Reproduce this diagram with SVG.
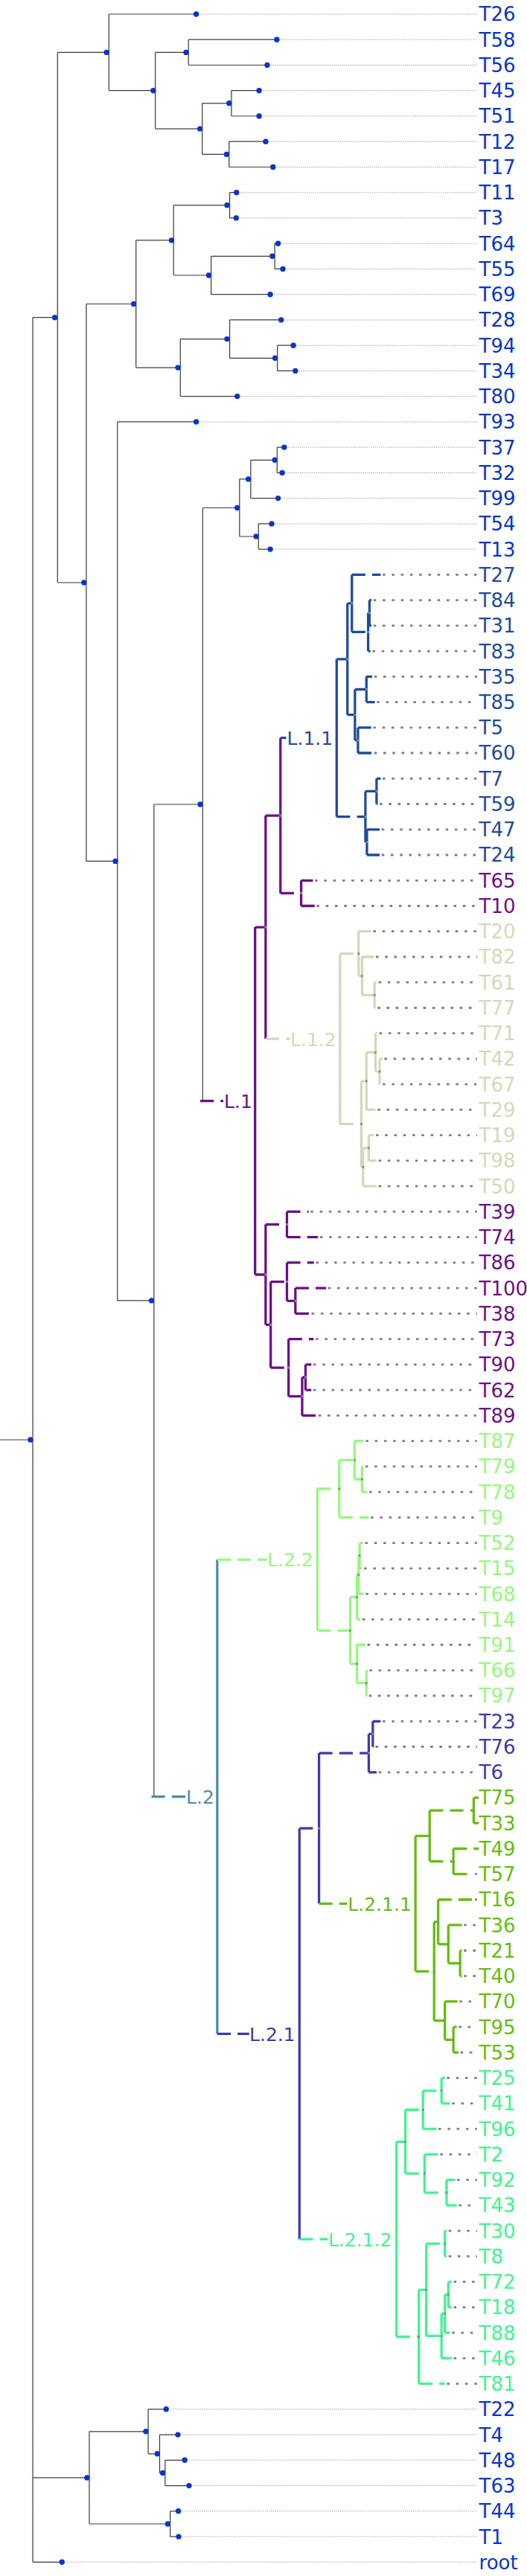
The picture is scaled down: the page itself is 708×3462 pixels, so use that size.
<svg xmlns="http://www.w3.org/2000/svg" width="708" height="3462" viewBox="0 0 708 3462">
<style>
.k{stroke:#3c3c3c;stroke-width:1.2;fill:none}
.k.v{stroke-width:.9}
.ld{stroke:#a0a0a0;stroke-width:1;stroke-dasharray:1 1;fill:none}
.cd{stroke:#7f7f7f;stroke-width:2.8;stroke-dasharray:2.6 6.4;fill:none}
.d{fill:#0a35c8}
.m{fill:#8a8a8a}
.w{stroke-width:3.3;fill:none}
.w.v{stroke-width:2.4}
.h{stroke-dasharray:13.3 6.7}
.s1{stroke:#6c0f86}.f1{fill:#6c0f86}
.s11{stroke:#1f4b9b}.f11{fill:#1f4b9b}
.s12{stroke:#d3d9b9}.f12{fill:#d3d9b9}
.s2{stroke:#4c8dab}.f2{fill:#4c8dab}
.s22{stroke:#96f77e}.f22{fill:#96f77e}
.s21{stroke:#3b3bab}.f21{fill:#3b3bab}
.s211{stroke:#63be0c}.f211{fill:#63be0c}
.s212{stroke:#3ff58e}.f212{fill:#3ff58e}
.fb{fill:#0a35c8}
text{font-family:"DejaVu Sans","Liberation Sans",sans-serif}
.lb{font-size:26px}
.ll{font-size:25px}
</style>
<rect width="708" height="3462" fill="#fff"/>
<g id="connectors" transform="scale(1.3636 1)">
<path class="ld" d="M197 19H470M276 53.2H470M267 87.5H470M259 121.7H470M259 156H470M265 190.2H470M272.5 224.5H470M236.5 258.7H470M236 292.9H470M277.5 327.2H470M282 361.4H470M270 395.7H470M280.5 429.9H470M292.5 464.2H470M294.5 498.4H470M237 532.6H470M197 566.9H470M283.5 601.1H470M281.5 635.4H470M277.5 669.6H470M271 703.9H470M270 738.1H470M167 3237.8H470M179 3272.1H470M185.5 3306.3H470M190 3340.6H470M179 3374.8H470M179.5 3409.1H470M64.5 3443.3H470"/>
<path class="cd" d="M377 772.3H470M368 806.6H470M368 840.8H470M367 875.1H470M368.7 909.3H470M371.3 943.6H470M367.7 977.8H470M368.7 1012H470M377 1046.3H470M374 1080.5H470M376 1114.8H470M376 1149H470M310.3 1183.3H470M312 1217.5H470M367.7 1251.7H470M370.3 1286H470M373 1320.2H470M372 1354.5H470M373.7 1388.7H470M378.7 1423H470M377 1457.2H470M372 1491.4H470M370.3 1525.7H470M373 1559.9H470M373 1594.2H470M306 1628.4H470M315.3 1662.7H470M311.3 1696.9H470M323.3 1731.1H470M307 1765.4H470M311 1799.6H470M308.7 1833.9H470M308.7 1868.1H470M313.7 1902.4H470M360.3 1936.6H470M360 1970.8H470M363.7 2005.1H470M365.3 2039.3H470M359.7 2073.6H470M358.7 2107.8H470M360.3 2142.1H470M357 2176.3H470M362 2210.5H470M364 2244.8H470M363.5 2279H470M377 2313.3H470M370 2347.5H470M373 2381.8H470M468 2518.7H470M468 2553H470M457 2587.2H470M457 2621.5H470M457 2655.7H470M452.7 2689.9H470M452 2724.2H470M453.7 2758.4H470M440.3 2792.7H470M445.3 2826.9H470M432 2861.2H470M433.7 2895.4H470M450.3 2929.6H470M452 2963.9H470M442 2998.1H470M442 3032.4H470M447 3066.6H470M447 3100.9H470M445.3 3135.1H470M447 3169.3H470M440.3 3203.6H470"/>
<path class="k" d="M0 1935H32.3M32.3 426.7H56.7M56.7 70.4H107.3M107.3 19H193.3M107.3 121.7H153M153 70.4H185.7M185.7 53.2H272.7M185.7 87.5H263.3M153 173.1H199.3M199.3 138.8H228M228 121.7H255.3M228 156H255.3M199.3 207.4H225.7M225.7 190.2H261.7M225.7 224.5H269M56.7 783H85M85 408.5H134M134 322.9H171M171 275.8H226.3M226.3 258.7H233M226.3 292.9H232.7M171 370H208M208 344.3H270.7M270.7 327.2H274M270.7 361.4H278.7M208 395.7H266.3M134 494.1H177.7M177.7 455.6H226.3M226.3 429.9H277M226.3 481.3H273.3M273.3 464.2H289M273.3 498.4H291M177.7 532.6H233.7M85 1157.4H115.7M115.7 566.9H193.3M115.7 1747.9H151.7M151.7 1081H199.7M199.7 682.5H236M236 643.9H247M247 618.3H273M273 601.1H280M273 635.4H278M247 669.6H274M236 721H254.7M254.7 703.9H267.7M254.7 738.1H266.3M32.3 3329.9H88M88 3267.8H146M146 3237.8H163.7M146 3297.8H157.3M157.3 3272.1H175.3M157.3 3323.5H162.7M162.7 3306.3H182M162.7 3340.6H186.3M88 3392H167.7M167.7 3374.8H175.7M167.7 3409.1H176M32.3 3443.3H61"/>
<path class="k v" d="M32.3 426.7V3443.3M56.7 70.4V783M107.3 19V121.7M153 70.4V173.1M185.7 53.2V87.5M199.3 138.8V207.4M228 121.7V156M225.7 190.2V224.5M85 408.5V1157.4M134 322.9V494.1M171 275.8V370M226.3 258.7V292.9M208 344.3V395.7M270.7 327.2V361.4M177.7 455.6V532.6M226.3 429.9V481.3M273.3 464.2V498.4M115.7 566.9V1747.9M151.7 1081V2414.7M199.7 682.5V1479.6M236 643.9V721M247 618.3V669.6M273 601.1V635.4M254.7 703.9V738.1M88 3267.8V3392M146 3237.8V3297.8M157.3 3272.1V3323.5M162.7 3306.3V3340.6M167.7 3374.8V3409.1"/>
<path class="w h s1" d="M197.3 1479.6H220M251.3 1246.1H261.7M261.7 1096.1H276.3M276.3 1200.4H296.7M296.7 1183.3H308.3M296.7 1217.5H310M251.3 1713H261.7M261.7 1645.6H282.7M282.7 1628.4H304M282.7 1662.7H313.3M261.7 1780.4H266.7M266.7 1722.6H282.7M282.7 1696.9H309.3M282.7 1748.3H291M291 1731.1H321.3M291 1765.4H305M266.7 1838.2H284.3M284.3 1799.6H309M284.3 1876.7H297.7M297.7 1851H301M301 1833.9H306.7M301 1868.1H306.7M297.7 1902.4H311.7"/>
<path class="w v s1" d="M251.3 1246.1V1713M261.7 1096.1V1396.2M276.3 991.7V1200.4M296.7 1183.3V1217.5M261.7 1645.6V1780.4M282.7 1628.4V1662.7M266.7 1722.6V1838.2M282.7 1696.9V1748.3M291 1731.1V1765.4M284.3 1799.6V1876.7M297.7 1851V1902.4M301 1833.9V1868.1"/>
<path class="w h s11" d="M276.3 991.7H282M331.7 885.8H342.3M342.3 810.9H346.7M346.7 772.3H375M346.7 849.4H362.7M362.7 823.7H364M364 806.6H366M364 840.8H366M362.7 875.1H365M342.3 960.7H349.7M349.7 926.5H361M361 909.3H366.7M361 943.6H369.3M349.7 994.9H352.7M352.7 977.8H365.7M352.7 1012H366.7M331.7 1097.7H360M360 1063.4H371M371 1046.3H375M371 1080.5H372M360 1131.9H361.5M361.5 1114.8H374M361.5 1149H374"/>
<path class="w v s11" d="M331.7 885.8V1097.7M342.3 810.9V960.7M346.7 772.3V849.4M362.7 823.7V875.1M364 806.6V840.8M349.7 926.5V994.9M361 909.3V943.6M352.7 977.8V1012M360 1063.4V1131.9M371 1046.3V1080.5M361.5 1114.8V1149"/>
<path class="w h s12" d="M261.7 1396.2H286M335 1281.7H353.3M353.3 1251.7H365.7M353.3 1311.7H356.7M356.7 1286H368.3M356.7 1337.4H369M369 1320.2H371M369 1354.5H370M335 1510.7H356M356 1452.9H361M361 1414.4H370M370 1388.7H371.7M370 1440.1H374M374 1423H376.7M374 1457.2H375M361 1491.4H370M356 1568.5H357.7M357.7 1542.8H363.3M363.3 1525.7H368.3M363.3 1559.9H371M357.7 1594.2H371"/>
<path class="w v s12" d="M335 1281.7V1510.7M353.3 1251.7V1311.7M356.7 1286V1337.4M369 1320.2V1354.5M356 1452.9V1568.5M361 1414.4V1491.4M370 1388.7V1440.1M374 1423V1457.2M357.7 1542.8V1594.2M363.3 1525.7V1559.9"/>
<path class="w h s2" d="M149.3 2414.7H183"/>
<path class="w v s2" d="M214 2096.1V2733.3"/>
<path class="w h s22" d="M214 2096.1H263M312.7 2000.8H334.3M334.3 1962.3H349.3M349.3 1936.6H358.3M349.3 1988H356.7M356.7 1970.8H358M356.7 2005.1H361.7M334.3 2039.3H363.3M312.7 2191.3H345M345 2146.4H351.7M351.7 2116.4H353.3M353.3 2090.7H354.3M354.3 2073.6H357.7M354.3 2107.8H356.7M353.3 2142.1H358.3M351.7 2176.3H355M345 2236.2H351.7M351.7 2210.5H360M351.7 2261.9H361M361 2244.8H362M361 2279H361.5"/>
<path class="w v s22" d="M312.7 2000.8V2191.3M334.3 1962.3V2039.3M349.3 1936.6V1988M356.7 1970.8V2005.1M345 2146.4V2236.2M351.7 2116.4V2176.3M353.3 2090.7V2142.1M354.3 2073.6V2107.8M351.7 2210.5V2261.9M361 2244.8V2279"/>
<path class="w h s21" d="M214 2733.3H245.5M295 2457.2H314.3M314.3 2356.1H363.3M363.3 2330.4H367.3M367.3 2313.3H375M367.3 2347.5H368M363.3 2381.8H371"/>
<path class="w v s21" d="M295 2457.2V3009.4M314.3 2356.1V2558.3M363.3 2330.4V2381.8M367.3 2313.3V2347.5"/>
<path class="w h s211" d="M314.3 2558.3H342M409.3 2467.4H423.3M423.3 2433.1H466.7M466.7 2416H471.7M466.7 2450.2H471.7M423.3 2501.6H446.7M446.7 2484.5H471.7M446.7 2518.7H466M409.3 2649.3H427.7M427.7 2583H431.7M431.7 2553H466M431.7 2612.9H441.7M441.7 2587.2H455M441.7 2638.6H453.3M453.3 2621.5H455M453.3 2655.7H455M427.7 2715.6H438.3M438.3 2689.9H450.7M438.3 2741.3H446.7M446.7 2724.2H450M446.7 2758.4H451.7"/>
<path class="w v s211" d="M409.3 2467.4V2649.3M423.3 2433.1V2501.6M466.7 2416V2450.2M446.7 2484.5V2518.7M427.7 2583V2715.6M431.7 2553V2612.9M441.7 2587.2V2638.6M453.3 2621.5V2655.7M438.3 2689.9V2741.3M446.7 2724.2V2758.4"/>
<path class="w h s212" d="M295 3009.4H322.7M390.7 2878.3H399.3M399.3 2835.5H416.7M416.7 2809.8H435M435 2792.7H438.3M435 2826.9H443.3M416.7 2861.2H430M399.3 2921.1H418.3M418.3 2895.4H431.7M418.3 2946.8H440M440 2929.6H448.3M440 2963.9H450M390.7 3140.5H412.7M412.7 3077.3H420M420 3015.3H438.3M438.3 2998.1H440M438.3 3032.4H440M420 3139.4H435M435 3109.4H438.3M438.3 3083.8H441.7M441.7 3066.6H445M441.7 3100.9H445M438.3 3135.1H443.3M435 3169.3H445M412.7 3203.6H438.3"/>
<path class="w v s212" d="M390.7 2878.3V3140.5M399.3 2835.5V2921.1M416.7 2809.8V2861.2M435 2792.7V2826.9M418.3 2895.4V2946.8M440 2929.6V2963.9M412.7 3077.3V3203.6M420 3015.3V3139.4M438.3 2998.1V3032.4M435 3109.4V3169.3M438.3 3083.8V3135.1M441.7 3066.6V3100.9"/>
</g>
<g id="internal-nodes" transform="scale(1.3636 1)">
<g id="n-root"><ellipse class="d" cx="30" cy="1935" rx="2.7" ry="3.7"/></g>
<g id="n-G"><ellipse class="d" cx="54" cy="426.7" rx="2.7" ry="3.7"/></g>
<g id="n-A"><ellipse class="d" cx="105" cy="70.4" rx="2.7" ry="3.7"/></g>
<g id="n-B"><ellipse class="d" cx="151" cy="121.7" rx="2.7" ry="3.7"/></g>
<g id="n-C"><ellipse class="d" cx="183.3" cy="70.4" rx="2.7" ry="3.7"/></g>
<g id="n-D"><ellipse class="d" cx="197" cy="173.1" rx="2.7" ry="3.7"/></g>
<g id="n-E"><ellipse class="d" cx="225.7" cy="138.8" rx="2.7" ry="3.7"/></g>
<g id="n-F"><ellipse class="d" cx="223.3" cy="207.4" rx="2.7" ry="3.7"/></g>
<g id="n-H"><ellipse class="d" cx="82.7" cy="783" rx="2.7" ry="3.7"/></g>
<g id="n-I"><ellipse class="d" cx="131.7" cy="408.5" rx="2.7" ry="3.7"/></g>
<g id="n-J"><ellipse class="d" cx="169" cy="322.9" rx="2.7" ry="3.7"/></g>
<g id="n-K"><ellipse class="d" cx="223.7" cy="275.8" rx="2.7" ry="3.7"/></g>
<g id="n-L"><ellipse class="d" cx="205.7" cy="370" rx="2.7" ry="3.7"/></g>
<g id="n-M"><ellipse class="d" cx="268.3" cy="344.3" rx="2.7" ry="3.7"/></g>
<g id="n-N"><ellipse class="d" cx="175.3" cy="494.1" rx="2.7" ry="3.7"/></g>
<g id="n-O"><ellipse class="d" cx="223.7" cy="455.6" rx="2.7" ry="3.7"/></g>
<g id="n-P"><ellipse class="d" cx="271" cy="481.3" rx="2.7" ry="3.7"/></g>
<g id="n-Q"><ellipse class="d" cx="113.7" cy="1157.4" rx="2.7" ry="3.7"/></g>
<g id="n-R"><ellipse class="d" cx="149.3" cy="1747.9" rx="2.7" ry="3.7"/></g>
<g id="n-S"><ellipse class="d" cx="197.3" cy="1081" rx="2.7" ry="3.7"/></g>
<g id="n-T"><ellipse class="d" cx="233.7" cy="682.5" rx="2.7" ry="3.7"/></g>
<g id="n-U"><ellipse class="d" cx="244.7" cy="643.9" rx="2.7" ry="3.7"/></g>
<g id="n-V"><ellipse class="d" cx="270.7" cy="618.3" rx="2.7" ry="3.7"/></g>
<g id="n-W"><ellipse class="d" cx="252.3" cy="721" rx="2.7" ry="3.7"/></g>
<g id="n-BB"><ellipse class="d" cx="85.7" cy="3329.9" rx="2.7" ry="3.7"/></g>
<g id="n-CC"><ellipse class="d" cx="143.7" cy="3267.8" rx="2.7" ry="3.7"/></g>
<g id="n-DD"><ellipse class="d" cx="155" cy="3297.8" rx="2.7" ry="3.7"/></g>
<g id="n-EE"><ellipse class="d" cx="160.3" cy="3323.5" rx="2.7" ry="3.7"/></g>
<g id="n-FF"><ellipse class="d" cx="165.3" cy="3392" rx="2.7" ry="3.7"/></g>
<g id="colored-node-marks" class="m">
<rect x="260.7" y="1244.6" width="2" height="3"/><rect x="275.3" y="1094.6" width="2" height="3"/><rect x="295.7" y="1198.9" width="2" height="3"/><rect x="260.7" y="1711.5" width="2" height="3"/><rect x="281.7" y="1644.1" width="2" height="3"/><rect x="265.7" y="1778.9" width="2" height="3"/><rect x="281.7" y="1721.1" width="2" height="3"/><rect x="290" y="1746.8" width="2" height="3"/><rect x="283.3" y="1836.7" width="2" height="3"/><rect x="296.7" y="1875.2" width="2" height="3"/><rect x="300" y="1849.5" width="2" height="3"/>
<rect x="341.3" y="884.3" width="2" height="3"/><rect x="345.7" y="809.4" width="2" height="3"/><rect x="361.7" y="847.9" width="2" height="3"/><rect x="363" y="822.2" width="2" height="3"/><rect x="348.7" y="959.2" width="2" height="3"/><rect x="360" y="925" width="2" height="3"/><rect x="351.7" y="993.4" width="2" height="3"/><rect x="359" y="1096.2" width="2" height="3"/><rect x="370" y="1061.9" width="2" height="3"/><rect x="360.5" y="1130.4" width="2" height="3"/>
<rect x="352.3" y="1280.2" width="2" height="3"/><rect x="355.7" y="1310.2" width="2" height="3"/><rect x="368" y="1335.9" width="2" height="3"/><rect x="355" y="1509.2" width="2" height="3"/><rect x="360" y="1451.4" width="2" height="3"/><rect x="369" y="1412.9" width="2" height="3"/><rect x="373" y="1438.6" width="2" height="3"/><rect x="356.7" y="1567" width="2" height="3"/><rect x="362.3" y="1541.3" width="2" height="3"/>
<rect x="333.3" y="1999.3" width="2" height="3"/><rect x="348.3" y="1960.8" width="2" height="3"/><rect x="355.7" y="1986.5" width="2" height="3"/><rect x="344" y="2189.8" width="2" height="3"/><rect x="350.7" y="2144.9" width="2" height="3"/><rect x="352.3" y="2114.9" width="2" height="3"/><rect x="353.3" y="2089.2" width="2" height="3"/><rect x="350.7" y="2234.7" width="2" height="3"/><rect x="360" y="2260.4" width="2" height="3"/>
<rect x="313.3" y="2455.7" width="2" height="3"/><rect x="362.3" y="2354.6" width="2" height="3"/><rect x="366.3" y="2328.9" width="2" height="3"/>
<rect x="422.3" y="2465.9" width="2" height="3"/><rect x="465.7" y="2431.6" width="2" height="3"/><rect x="445.7" y="2500.1" width="2" height="3"/><rect x="426.7" y="2647.8" width="2" height="3"/><rect x="430.7" y="2581.5" width="2" height="3"/><rect x="440.7" y="2611.4" width="2" height="3"/><rect x="452.3" y="2637.1" width="2" height="3"/><rect x="437.3" y="2714.1" width="2" height="3"/><rect x="445.7" y="2739.8" width="2" height="3"/>
<rect x="398.3" y="2876.8" width="2" height="3"/><rect x="415.7" y="2834" width="2" height="3"/><rect x="434" y="2808.3" width="2" height="3"/><rect x="417.3" y="2919.6" width="2" height="3"/><rect x="439" y="2945.3" width="2" height="3"/><rect x="411.7" y="3139" width="2" height="3"/><rect x="419" y="3075.8" width="2" height="3"/><rect x="437.3" y="3013.8" width="2" height="3"/><rect x="434" y="3137.9" width="2" height="3"/><rect x="437.3" y="3107.9" width="2" height="3"/><rect x="440.7" y="3082.3" width="2" height="3"/>
</g>
</g>
<g id="clade-labels" class="ll">
<g id="L.1" class="f1"><text x="301" y="1488.9">L.1</text></g>
<g id="L.1.1" class="f11"><text x="385.5" y="1001">L.1.1</text></g>
<g id="L.1.2" class="f12"><text x="390" y="1405.5">L.1.2</text></g>
<g id="L.2" class="f2"><text x="250" y="2424">L.2</text></g>
<g id="L.2.2" class="f22"><text x="359" y="2105.4">L.2.2</text></g>
<g id="L.2.1" class="f21"><text x="335" y="2742.6">L.2.1</text></g>
<g id="L.2.1.1" class="f211"><text x="467.3" y="2567.6">L.2.1.1</text></g>
<g id="L.2.1.2" class="f212"><text x="440.9" y="3018.7">L.2.1.2</text></g>
</g>
<g id="leaves" class="lb">
<g id="T26" class="fb"><circle cx="263.6" cy="19" r="3.7"/><text x="643.6" y="28.4">T26</text></g>
<g id="T58" class="fb"><circle cx="371.9" cy="53.2" r="3.7"/><text x="643.6" y="62.6">T58</text></g>
<g id="T56" class="fb"><circle cx="359" cy="87.5" r="3.7"/><text x="643.6" y="96.9">T56</text></g>
<g id="T45" class="fb"><circle cx="348.1" cy="121.7" r="3.7"/><text x="643.6" y="131.1">T45</text></g>
<g id="T51" class="fb"><circle cx="348.1" cy="156" r="3.7"/><text x="643.6" y="165.4">T51</text></g>
<g id="T12" class="fb"><circle cx="356.9" cy="190.2" r="3.7"/><text x="643.6" y="199.6">T12</text></g>
<g id="T17" class="fb"><circle cx="366.8" cy="224.5" r="3.7"/><text x="643.6" y="233.9">T17</text></g>
<g id="T11" class="fb"><circle cx="317.7" cy="258.7" r="3.7"/><text x="643.6" y="268.1">T11</text></g>
<g id="T3" class="fb"><circle cx="317.3" cy="292.9" r="3.7"/><text x="643.6" y="302.3">T3</text></g>
<g id="T64" class="fb"><circle cx="373.6" cy="327.2" r="3.7"/><text x="643.6" y="336.6">T64</text></g>
<g id="T55" class="fb"><circle cx="380" cy="361.4" r="3.7"/><text x="643.6" y="370.8">T55</text></g>
<g id="T69" class="fb"><circle cx="363.1" cy="395.7" r="3.7"/><text x="643.6" y="405.1">T69</text></g>
<g id="T28" class="fb"><circle cx="377.7" cy="429.9" r="3.7"/><text x="643.6" y="439.3">T28</text></g>
<g id="T94" class="fb"><circle cx="394.1" cy="464.2" r="3.7"/><text x="643.6" y="473.6">T94</text></g>
<g id="T34" class="fb"><circle cx="396.8" cy="498.4" r="3.7"/><text x="643.6" y="507.8">T34</text></g>
<g id="T80" class="fb"><circle cx="318.7" cy="532.6" r="3.7"/><text x="643.6" y="542">T80</text></g>
<g id="T93" class="fb"><circle cx="263.6" cy="566.9" r="3.7"/><text x="643.6" y="576.3">T93</text></g>
<g id="T37" class="fb"><circle cx="381.8" cy="601.1" r="3.7"/><text x="643.6" y="610.5">T37</text></g>
<g id="T32" class="fb"><circle cx="379.1" cy="635.4" r="3.7"/><text x="643.6" y="644.8">T32</text></g>
<g id="T99" class="fb"><circle cx="373.6" cy="669.6" r="3.7"/><text x="643.6" y="679">T99</text></g>
<g id="T54" class="fb"><circle cx="365" cy="703.9" r="3.7"/><text x="643.6" y="713.3">T54</text></g>
<g id="T13" class="fb"><circle cx="363.1" cy="738.1" r="3.7"/><text x="643.6" y="747.5">T13</text></g>
<g id="T27" class="f11"><text x="643.6" y="781.7">T27</text></g>
<g id="T84" class="f11"><text x="643.6" y="816">T84</text></g>
<g id="T31" class="f11"><text x="643.6" y="850.2">T31</text></g>
<g id="T83" class="f11"><text x="643.6" y="884.5">T83</text></g>
<g id="T35" class="f11"><text x="643.6" y="918.7">T35</text></g>
<g id="T85" class="f11"><text x="643.6" y="953">T85</text></g>
<g id="T5" class="f11"><text x="643.6" y="987.2">T5</text></g>
<g id="T60" class="f11"><text x="643.6" y="1021.4">T60</text></g>
<g id="T7" class="f11"><text x="643.6" y="1055.7">T7</text></g>
<g id="T59" class="f11"><text x="643.6" y="1089.9">T59</text></g>
<g id="T47" class="f11"><text x="643.6" y="1124.2">T47</text></g>
<g id="T24" class="f11"><text x="643.6" y="1158.4">T24</text></g>
<g id="T65" class="f1"><text x="643.6" y="1192.7">T65</text></g>
<g id="T10" class="f1"><text x="643.6" y="1226.9">T10</text></g>
<g id="T20" class="f12"><text x="643.6" y="1261.1">T20</text></g>
<g id="T82" class="f12"><text x="643.6" y="1295.4">T82</text></g>
<g id="T61" class="f12"><text x="643.6" y="1329.6">T61</text></g>
<g id="T77" class="f12"><text x="643.6" y="1363.9">T77</text></g>
<g id="T71" class="f12"><text x="643.6" y="1398.1">T71</text></g>
<g id="T42" class="f12"><text x="643.6" y="1432.4">T42</text></g>
<g id="T67" class="f12"><text x="643.6" y="1466.6">T67</text></g>
<g id="T29" class="f12"><text x="643.6" y="1500.8">T29</text></g>
<g id="T19" class="f12"><text x="643.6" y="1535.1">T19</text></g>
<g id="T98" class="f12"><text x="643.6" y="1569.3">T98</text></g>
<g id="T50" class="f12"><text x="643.6" y="1603.6">T50</text></g>
<g id="T39" class="f1"><text x="643.6" y="1637.8">T39</text></g>
<g id="T74" class="f1"><text x="643.6" y="1672.1">T74</text></g>
<g id="T86" class="f1"><text x="643.6" y="1706.3">T86</text></g>
<g id="T100" class="f1"><text x="643.6" y="1740.5">T100</text></g>
<g id="T38" class="f1"><text x="643.6" y="1774.8">T38</text></g>
<g id="T73" class="f1"><text x="643.6" y="1809">T73</text></g>
<g id="T90" class="f1"><text x="643.6" y="1843.3">T90</text></g>
<g id="T62" class="f1"><text x="643.6" y="1877.5">T62</text></g>
<g id="T89" class="f1"><text x="643.6" y="1911.8">T89</text></g>
<g id="T87" class="f22"><text x="643.6" y="1946">T87</text></g>
<g id="T79" class="f22"><text x="643.6" y="1980.2">T79</text></g>
<g id="T78" class="f22"><text x="643.6" y="2014.5">T78</text></g>
<g id="T9" class="f22"><text x="643.6" y="2048.7">T9</text></g>
<g id="T52" class="f22"><text x="643.6" y="2083">T52</text></g>
<g id="T15" class="f22"><text x="643.6" y="2117.2">T15</text></g>
<g id="T68" class="f22"><text x="643.6" y="2151.5">T68</text></g>
<g id="T14" class="f22"><text x="643.6" y="2185.7">T14</text></g>
<g id="T91" class="f22"><text x="643.6" y="2219.9">T91</text></g>
<g id="T66" class="f22"><text x="643.6" y="2254.2">T66</text></g>
<g id="T97" class="f22"><text x="643.6" y="2288.4">T97</text></g>
<g id="T23" class="f21"><text x="643.6" y="2322.7">T23</text></g>
<g id="T76" class="f21"><text x="643.6" y="2356.9">T76</text></g>
<g id="T6" class="f21"><text x="643.6" y="2391.2">T6</text></g>
<g id="T75" class="f211"><text x="643.6" y="2425.4">T75</text></g>
<g id="T33" class="f211"><text x="643.6" y="2459.6">T33</text></g>
<g id="T49" class="f211"><text x="643.6" y="2493.9">T49</text></g>
<g id="T57" class="f211"><text x="643.6" y="2528.1">T57</text></g>
<g id="T16" class="f211"><text x="643.6" y="2562.4">T16</text></g>
<g id="T36" class="f211"><text x="643.6" y="2596.6">T36</text></g>
<g id="T21" class="f211"><text x="643.6" y="2630.9">T21</text></g>
<g id="T40" class="f211"><text x="643.6" y="2665.1">T40</text></g>
<g id="T70" class="f211"><text x="643.6" y="2699.3">T70</text></g>
<g id="T95" class="f211"><text x="643.6" y="2733.6">T95</text></g>
<g id="T53" class="f211"><text x="643.6" y="2767.8">T53</text></g>
<g id="T25" class="f212"><text x="643.6" y="2802.1">T25</text></g>
<g id="T41" class="f212"><text x="643.6" y="2836.3">T41</text></g>
<g id="T96" class="f212"><text x="643.6" y="2870.6">T96</text></g>
<g id="T2" class="f212"><text x="643.6" y="2904.8">T2</text></g>
<g id="T92" class="f212"><text x="643.6" y="2939">T92</text></g>
<g id="T43" class="f212"><text x="643.6" y="2973.3">T43</text></g>
<g id="T30" class="f212"><text x="643.6" y="3007.5">T30</text></g>
<g id="T8" class="f212"><text x="643.6" y="3041.8">T8</text></g>
<g id="T72" class="f212"><text x="643.6" y="3076">T72</text></g>
<g id="T18" class="f212"><text x="643.6" y="3110.3">T18</text></g>
<g id="T88" class="f212"><text x="643.6" y="3144.5">T88</text></g>
<g id="T46" class="f212"><text x="643.6" y="3178.7">T46</text></g>
<g id="T81" class="f212"><text x="643.6" y="3213">T81</text></g>
<g id="T22" class="fb"><circle cx="223.2" cy="3237.8" r="3.7"/><text x="643.6" y="3247.2">T22</text></g>
<g id="T4" class="fb"><circle cx="239" cy="3272.1" r="3.7"/><text x="643.6" y="3281.5">T4</text></g>
<g id="T48" class="fb"><circle cx="248.2" cy="3306.3" r="3.7"/><text x="643.6" y="3315.7">T48</text></g>
<g id="T63" class="fb"><circle cx="254" cy="3340.6" r="3.7"/><text x="643.6" y="3350">T63</text></g>
<g id="T44" class="fb"><circle cx="239.6" cy="3374.8" r="3.7"/><text x="643.6" y="3384.2">T44</text></g>
<g id="T1" class="fb"><circle cx="240" cy="3409.1" r="3.7"/><text x="643.6" y="3418.5">T1</text></g>
<g id="root" class="fb"><circle cx="83.2" cy="3443.3" r="3.7"/><text x="643.6" y="3452.7">root</text></g>
</g>
</svg>
